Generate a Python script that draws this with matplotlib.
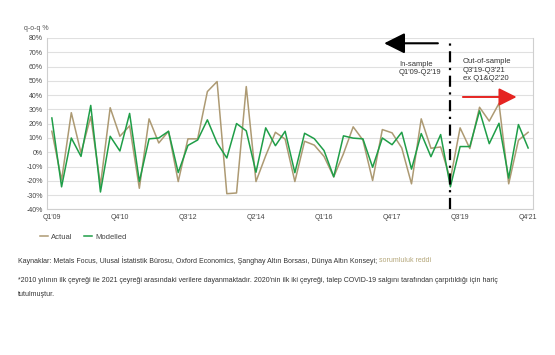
import matplotlib
matplotlib.use("Agg")
import matplotlib.pyplot as plt
from matplotlib.lines import Line2D

plt.rcParams['font.family'] = ['Liberation Sans', 'DejaVu Sans']

# quarterly q-o-q %, Q1'09 .. Q4'21 without Q1'20 and Q2'20
quarters = ["Q1'09", "Q2'09", "Q3'09", "Q4'09", "Q1'10", "Q2'10", "Q3'10", "Q4'10",
            "Q1'11", "Q2'11", "Q3'11", "Q4'11", "Q1'12", "Q2'12", "Q3'12", "Q4'12",
            "Q1'13", "Q2'13", "Q3'13", "Q4'13", "Q1'14", "Q2'14", "Q3'14", "Q4'14",
            "Q1'15", "Q2'15", "Q3'15", "Q4'15", "Q1'16", "Q2'16", "Q3'16", "Q4'16",
            "Q1'17", "Q2'17", "Q3'17", "Q4'17", "Q1'18", "Q2'18", "Q3'18", "Q4'18",
            "Q1'19", "Q2'19", "Q3'19", "Q4'19", "Q3'20", "Q4'20", "Q1'21", "Q2'21",
            "Q3'21", "Q4'21"]
actual = [14.7, -19.5, 27.7, -0.5, 25.0, -23.0, 31.2, 11.2,
          18.5, -25.2, 23.4, 6.5, 14.7, -20.5, 9.4, 9.4,
          42.5, 49.5, -29.0, -28.5, 46.0, -20.5, -2.4, 14.0,
          9.2, -20.5, 7.7, 5.0, -2.9, -17.2, -1.0, 17.8,
          8.6, -19.8, 15.9, 13.6, 3.0, -22.1, 23.4, 2.8,
          3.7, -19.0, 17.1, 2.6, 31.5, 21.8, 34.2, -22.1,
          8.4, 14.0]
modelled = [24.0, -24.2, 10.0, -2.9, 32.8, -27.8, 11.2, 0.9,
            27.2, -20.5, 9.4, 10.0, 14.7, -14.2, 4.8, 8.6,
            22.7, 6.5, -4.0, 20.1, 15.0, -14.0, 17.1, 4.6,
            14.7, -14.3, 13.3, 9.5, 1.2, -17.2, 11.5, 9.9,
            9.4, -10.5, 10.0, 5.3, 14.0, -11.8, 13.1, -3.1,
            12.4, -24.2, 4.0, 4.0, 29.0, 6.0, 20.3, -18.1,
            19.4, 3.0]
tick_idx = [0, 7, 14, 21, 28, 35, 42, 49]
yticks = [-40, -30, -20, -10, 0, 10, 20, 30, 40, 50, 60, 70, 80]

c_actual = '#ad9a73'
c_model = '#1f9e48'
txt = '#333333'

fig = plt.figure(figsize=(5.55, 3.55), dpi=100)
ax = fig.add_axes([47 / 555, 1 - 209.4 / 355, 486 / 555, 171.4 / 355])

x = list(range(len(quarters)))
ax.plot(x, actual, color=c_actual, lw=1.1, label='Actual', zorder=3)
ax.plot(x, modelled, color=c_model, lw=1.1, label='Modelled', zorder=4)

ax.set_xlim(-0.5, 49.5)
ax.set_ylim(-40, 80)
ax.set_yticks(yticks)
ax.set_yticklabels([f"{v}%" for v in yticks])
ax.set_xticks(tick_idx)
ax.set_xticklabels([quarters[i] for i in tick_idx])
ax.tick_params(length=0, labelsize=5, labelcolor='#444444', pad=3)
ax.grid(axis='y', color='#e0e0e0', lw=0.8)
ax.set_axisbelow(True)
ax.spines['top'].set_visible(False)
for s in ['left', 'right', 'bottom']:
    ax.spines[s].set_color('#cfcfcf')
    ax.spines[s].set_linewidth(0.8)

# in-sample / out-of-sample split
ax.axvline(41, color='black', lw=1.6, linestyle=(0, (5, 2.5, 1, 2.5)), zorder=5)
ax.annotate('', xy=(33.9, 76.3), xytext=(40, 76.3),
            arrowprops=dict(arrowstyle='-|>,head_length=0.9,head_width=0.45',
                            color='black', lw=1.5, mutation_scale=14))
ax.text(35.7, 58.5, "In-sample\nQ1'09-Q2'19", fontsize=5.5, color=txt,
        va='center', ha='left', linespacing=1.3)
ax.annotate('', xy=(48.1, 38.7), xytext=(42, 38.7),
            arrowprops=dict(arrowstyle='-|>,head_length=0.9,head_width=0.45',
                            color='#e52421', lw=1.4, mutation_scale=12))
ax.text(42.3, 57.5, "Out-of-sample\nQ3'19-Q3'21\nex Q1&Q2'20", fontsize=5.5, color=txt,
        va='center', ha='left', linespacing=1.3)

fig.text(24 / 555, 1 - 29 / 355, 'q-o-q %', fontsize=5, color='#555555', va='center')

handles = [Line2D([0], [0], color=c_actual, lw=1.1),
           Line2D([0], [0], color=c_model, lw=1.1)]
fig.legend(handles, ['Actual', 'Modelled'], loc='center left',
           bbox_to_anchor=(40 / 555, 1 - 237 / 355), ncol=2, frameon=False,
           fontsize=5.5, handlelength=1.05, handletextpad=0.45, columnspacing=1.45,
           borderpad=0, borderaxespad=0, labelcolor='#444444')

src = "Kaynaklar: Metals Focus, Ulusal İstatistik Bürosu, Oxford Economics, Şanghay Altın Borsası, Dünya Altın Konseyi; "
t = fig.text(18 / 555, 1 - 261 / 355, src, fontsize=5.0, color=txt, va='center')
fig.canvas.draw()
bb = t.get_window_extent()
fig.text(bb.x1 / 555, 1 - 261 / 355, 'sorumluluk reddi', fontsize=5.0,
         color='#b5a77a', va='center')
fig.text(18 / 555, 1 - 280 / 355,
         "*2010 yılının ilk çeyreği ile 2021 çeyreği arasındaki verilere dayanmaktadır. "
         "2020'nin ilk iki çeyreği, talep COVID-19 salgını tarafından çarpıtıldığı için hariç",
         fontsize=5.0, color=txt, va='center')
fig.text(18 / 555, 1 - 294.5 / 355, 'tutulmuştur.', fontsize=5.0, color=txt, va='center')

fig.savefig('out.png', dpi=100)
